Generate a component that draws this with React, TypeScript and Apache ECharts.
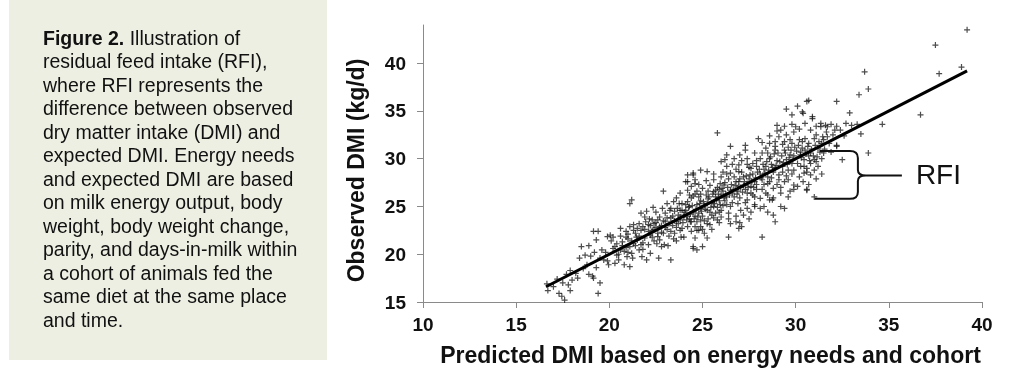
import React, { useEffect, useRef } from "react";
import * as echarts from "echarts";

const xTicks = [10, 15, 20, 25, 30, 35, 40];
const yTicks = [15, 20, 25, 30, 35, 40];
const xAxisTitle = "Predicted DMI based on energy needs and cohort";
const yAxisTitle = "Observed DMI (kg/d)";
const annotationLabel = "RFI";
const regressionLine = [[16.6, 16.6], [39.2, 39.2]];
const braceTop = [31.3, 30.8];
const braceBottom = [31.2, 25.8];

const captionLines = [
  "{b|Figure 2.} Illustration of",
  "residual feed intake (RFI),",
  "where RFI represents the",
  "difference between observed",
  "dry matter intake (DMI) and",
  "expected DMI. Energy needs",
  "and expected DMI are based",
  "on milk energy output, body",
  "weight, body weight change,",
  "parity, and days-in-milk within",
  "a cohort of animals fed the",
  "same diet at the same place",
  "and time.",
];

const outerPoints = [
  [16.7, 16.2], [16.65, 16.9], [17.0, 16.6], [17.3, 15.9], [17.45, 15.6], [17.6, 15.2], [17.2, 17.4],
  [17.5, 17.0], [17.8, 16.8], [17.9, 18.3], [18.0, 17.3], [17.7, 17.9], [17.9, 16.2],
  [18.2, 18.0], [18.4, 19.6], [18.5, 20.8], [18.3, 17.5], [18.6, 18.5], [18.8, 18.9], [18.9, 17.9],
  [19.1, 17.7], [19.15, 17.5], [19.4, 15.9], [19.5, 17.0], [19.15, 22.4], [19.4, 22.4], [19.3, 21.5],
  [19.6, 20.45], [19.9, 21.85], [19.7, 19.4], [19.96, 18.9], [19.0, 19.8], [19.2, 20.2], [19.5, 19.6],
  [19.8, 20.2], [18.7, 19.9], [19.3, 18.6], [19.9, 19.3], [18.9, 20.9],
  [20.05, 22.0], [20.3, 19.05], [20.5, 19.4], [20.6, 20.45], [20.6, 22.7], [20.9, 22.4], [21.1, 22.9],
  [21.1, 25.3], [21.2, 25.7], [20.8, 18.9], [20.95, 19.75], [21.1, 18.7], [21.3, 21.1], [21.5, 21.5],
  [21.6, 20.45], [21.7, 24.3], [21.9, 23.9], [21.8, 22.9], [21.75, 19.75], [20.2, 20.6], [20.4, 21.1],
  [20.7, 21.3], [20.9, 20.7], [21.0, 21.6], [21.2, 20.1], [21.4, 22.2], [21.6, 21.9], [21.8, 21.2],
  [21.9, 22.6], [20.5, 20.0], [21.3, 23.1], [20.1, 21.4], [21.0, 20.2], [21.7, 22.5],
  [22.0, 24.5], [22.1, 23.1], [22.3, 22.5], [22.0, 19.4], [22.2, 20.1], [22.4, 23.2], [22.6, 23.6],
  [22.7, 23.9], [22.6, 21.85], [22.7, 21.5], [22.9, 22.2], [22.65, 19.6], [23.3, 19.4], [22.9, 26.6],
  [23.1, 25.3], [23.3, 24.8], [23.45, 25.5], [23.6, 25.9], [23.9, 25.3], [23.3, 23.8], [23.6, 23.4],
  [23.8, 22.5], [22.2, 22.0], [22.4, 21.4], [22.5, 22.8], [22.8, 23.0], [23.0, 23.4], [23.1, 22.6],
  [23.2, 21.9], [23.4, 23.0], [23.5, 22.2], [23.7, 24.1], [23.8, 23.6], [22.3, 23.6], [22.8, 20.8],
  [23.0, 24.3], [23.5, 24.5], [23.9, 24.6], [22.1, 21.0], [23.6, 21.4], [23.8, 24.6], [23.95, 23.3],
  [22.5, 24.4],
  [24.0, 23.9], [24.2, 22.9], [24.4, 22.4], [24.1, 27.6], [24.2, 28.3], [24.5, 28.5], [24.6, 27.4],
  [24.7, 26.6], [24.8, 26.0], [24.5, 20.6], [24.7, 20.45], [24.35, 23.4], [24.6, 21.7], [24.8, 22.5],
  [24.5, 28.3], [24.6, 27.8], [24.2, 27.6], [24.9, 28.8], [25.25, 28.65], [25.6, 27.8], [24.9, 24.8],
  [25.25, 24.6], [25.6, 25.0], [24.9, 23.6], [25.25, 23.2], [25.6, 23.8], [24.0, 24.1], [24.4, 23.4],
  [24.7, 22.5], [24.9, 22.9], [24.0, 21.8], [24.5, 20.8], [25.0, 20.8], [25.25, 21.7], [24.2, 26.7],
  [23.8, 26.4], [25.6, 26.55], [24.1, 24.6], [24.3, 25.0], [24.5, 24.4], [24.7, 25.2], [24.9, 25.6],
  [25.1, 25.1], [25.3, 25.8], [25.5, 25.4], [25.7, 26.0], [25.9, 25.6], [24.2, 25.5], [24.4, 25.9],
  [24.6, 24.0], [24.8, 24.3], [25.0, 24.0], [25.2, 26.2], [25.4, 24.4], [25.8, 24.9], [25.0, 26.9],
  [25.4, 27.2], [25.8, 27.0], [25.1, 22.2], [25.5, 22.6], [25.9, 23.3], [24.3, 26.2], [25.7, 24.3],
  [25.3, 23.7], [24.6, 26.3], [25.9, 26.8],
  [26.0, 28.1], [26.5, 28.5], [26.95, 28.65], [27.2, 28.1], [27.4, 27.4], [27.8, 27.6], [26.15, 27.25],
  [26.5, 26.7], [26.95, 27.1], [27.4, 26.4], [27.8, 26.0], [26.0, 26.2], [26.3, 26.0], [26.7, 26.0],
  [27.05, 24.6], [27.4, 24.8], [27.8, 25.0], [26.95, 22.7], [27.1, 22.9], [26.4, 21.8], [26.0, 24.6],
  [26.3, 25.2], [26.0, 23.9], [27.8, 25.2], [27.4, 25.7], [25.8, 32.7], [26.5, 31.3], [27.3, 31.4],
  [27.3, 30.9], [26.0, 29.7], [26.3, 29.2], [26.7, 30.0], [26.95, 29.35], [27.4, 30.0], [27.7, 29.5],
  [27.9, 29.2], [26.1, 26.6], [26.2, 27.5], [26.4, 27.9], [26.6, 26.4], [26.8, 27.6], [26.9, 26.6],
  [27.0, 27.9], [27.2, 27.2], [27.3, 26.8], [27.5, 27.9], [27.6, 27.1], [27.7, 28.4], [27.9, 27.3],
  [26.2, 25.6], [26.6, 25.4], [27.0, 25.9], [27.6, 26.4], [26.4, 24.3], [26.8, 24.0], [27.5, 23.7],
  [26.1, 28.6], [26.8, 28.9], [27.6, 29.0], [26.5, 23.2], [27.9, 26.8], [26.3, 30.4], [27.1, 29.8],
  [28.6, 31.6], [28.9, 31.8], [29.4, 31.8], [29.8, 31.6], [28.2, 30.6], [28.6, 30.0], [28.9, 30.9],
  [29.4, 30.9], [29.7, 30.4], [28.4, 29.2], [28.2, 27.8], [28.5, 27.4], [28.8, 26.9], [29.2, 26.4],
  [29.6, 27.8], [29.9, 27.25], [28.1, 25.85], [28.5, 26.2], [28.75, 25.7], [29.2, 25.0], [29.4, 24.8],
  [28.3, 25.0], [28.6, 25.7], [28.8, 24.1], [28.9, 23.4], [28.1, 24.8], [28.2, 21.8], [29.0, 33.5],
  [29.2, 33.0], [28.1, 28.4], [28.3, 28.9], [28.5, 28.1], [28.7, 29.4], [28.8, 28.6], [29.0, 29.8],
  [29.1, 28.3], [29.3, 29.2], [29.5, 29.9], [29.6, 28.8], [29.8, 29.5], [29.9, 30.3], [28.4, 31.1],
  [29.1, 32.3], [29.5, 32.5], [28.6, 27.6], [29.0, 27.3], [29.4, 27.6], [29.7, 26.6], [28.2, 26.8],
  [29.3, 28.6], [28.9, 29.0], [29.8, 28.4], [28.0, 32.1], [29.6, 31.2], [29.9, 32.8], [28.5, 24.4],
  [29.5, 35.2], [29.8, 34.6],
  [30.0, 33.35], [30.6, 36.0], [30.4, 34.75], [30.9, 34.4], [30.2, 32.0], [30.5, 32.1], [31.1, 32.5],
  [30.1, 29.5], [30.45, 29.2], [31.0, 29.9], [30.2, 28.1], [30.6, 28.6], [31.2, 29.2], [30.1, 27.1],
  [30.6, 26.7], [31.0, 26.0], [30.36, 34.9], [30.9, 34.2], [30.36, 31.8], [30.7, 31.6], [31.0, 32.1],
  [30.27, 30.7], [30.5, 30.9], [30.8, 30.6], [31.2, 31.1], [30.45, 29.9], [30.8, 29.5], [31.1, 29.7],
  [31.4, 30.0], [30.27, 29.2], [30.6, 29.0], [31.0, 28.8], [30.45, 28.5], [30.8, 28.3], [30.6, 26.8],
  [31.35, 33.36], [30.3, 30.1], [30.7, 30.3], [31.3, 30.7], [31.4, 31.6], [30.1, 35.5],
  [31.6, 33.5], [31.9, 33.6], [32.2, 33.4], [32.7, 33.7], [33.0, 33.5], [33.3, 33.6], [32.1, 33.0],
  [32.4, 33.0], [31.7, 32.3], [32.0, 32.5], [31.5, 30.6], [31.9, 30.7], [32.2, 31.3], [31.35, 33.7],
  [31.7, 33.35], [32.2, 36.0], [30.7, 36.1], [32.9, 34.8], [33.5, 32.6], [33.9, 30.6], [32.5, 29.9],
  [33.4, 36.7], [33.9, 37.3], [33.7, 39.1], [34.65, 33.6], [32.2, 31.4], [32.6, 32.4],
  [36.7, 34.6], [37.7, 38.9], [38.9, 39.6], [37.5, 41.9], [39.2, 43.5],
];

const corePoints = [
  [20.3, 20.8], [20.6, 21.9], [20.8, 20.3], [21.0, 22.1], [21.2, 21.4], [21.4, 20.9], [21.5, 22.7],
  [21.7, 21.0], [21.9, 21.7], [20.4, 19.9], [20.7, 20.9], [21.1, 20.8], [21.3, 22.5], [21.6, 23.2],
  [21.8, 20.5], [20.2, 21.8], [21.95, 23.4], [21.45, 21.8], [20.9, 21.8], [21.25, 19.6],
  [22.1, 22.4], [22.2, 23.0], [22.3, 21.8], [22.4, 22.6], [22.5, 23.3], [22.6, 22.2], [22.7, 22.9],
  [22.8, 22.3], [22.9, 23.5], [23.0, 22.8], [23.1, 23.8], [23.2, 23.2], [23.3, 22.4], [23.4, 24.0],
  [23.5, 23.5], [23.6, 22.8], [23.7, 23.2], [23.8, 23.9], [23.9, 22.7], [22.35, 24.9], [22.55, 21.1],
  [22.85, 24.8], [23.15, 20.9], [23.45, 21.6], [23.75, 25.3], [22.95, 21.0], [23.65, 24.8], [22.15, 23.7],
  [23.25, 24.6], [23.85, 21.8],
  [24.05, 24.4], [24.15, 23.6], [24.25, 24.9], [24.35, 24.2], [24.45, 25.1], [24.55, 23.7], [24.65, 24.7],
  [24.75, 23.9], [24.85, 25.3], [24.95, 24.5], [25.05, 25.5], [25.15, 24.7], [25.25, 25.3], [25.35, 26.0],
  [25.45, 24.9], [25.55, 26.3], [25.65, 25.3], [25.75, 25.7], [25.85, 26.3], [25.95, 25.2], [24.1, 25.2],
  [24.3, 23.7], [24.5, 26.1], [24.7, 23.4], [24.9, 26.3], [25.1, 23.5], [25.3, 26.6], [25.5, 24.1],
  [25.7, 26.7], [25.9, 24.4], [24.4, 27.1], [24.8, 27.3], [25.2, 27.7], [25.6, 28.4], [24.6, 22.9],
  [25.0, 22.6], [25.4, 23.1], [25.8, 23.6], [24.2, 24.0], [25.95, 27.4],
  [26.05, 26.9], [26.15, 25.9], [26.25, 26.3], [26.35, 27.0], [26.45, 26.2], [26.55, 27.3], [26.65, 26.8],
  [26.75, 27.2], [26.85, 26.3], [26.95, 27.6], [27.05, 27.0], [27.15, 26.5], [27.25, 27.6], [27.35, 28.2],
  [27.45, 27.0], [27.55, 28.3], [27.65, 27.6], [27.75, 27.0], [27.85, 28.0], [27.95, 28.6], [26.1, 25.1],
  [26.3, 28.4], [26.5, 25.0], [26.7, 28.1], [26.9, 25.3], [27.1, 28.6], [27.3, 25.4], [27.5, 29.1],
  [27.7, 26.2], [27.9, 29.8], [26.2, 29.9], [26.6, 29.4], [27.0, 30.4], [27.4, 29.4], [27.8, 30.6],
  [26.4, 23.7], [26.8, 23.4], [27.2, 24.1], [27.6, 24.4], [27.0, 23.3],
  [28.05, 28.9], [28.15, 28.0], [28.25, 29.4], [28.35, 28.5], [28.45, 29.7], [28.55, 28.8], [28.65, 30.2],
  [28.75, 29.1], [28.85, 30.5], [28.95, 29.3], [29.05, 30.6], [29.15, 29.7], [29.25, 30.3], [29.35, 29.6],
  [29.45, 30.6], [29.55, 29.4], [29.65, 30.1], [29.75, 30.9], [29.85, 29.9], [29.95, 31.2], [28.1, 30.0],
  [28.3, 27.3], [28.5, 30.6], [28.7, 28.0], [28.9, 31.3], [29.1, 27.8], [29.3, 31.5], [29.5, 28.2],
  [29.7, 32.0], [29.9, 28.8], [28.2, 31.7], [28.6, 32.4], [29.0, 32.9], [29.4, 33.4], [29.8, 33.6],
  [28.4, 26.4], [28.8, 25.9], [29.2, 27.0], [29.6, 26.0], [29.9, 26.8],
  [30.05, 30.8], [30.15, 31.4], [30.25, 30.4], [30.35, 31.1], [30.55, 30.5], [30.65, 31.3], [30.75, 29.8],
  [30.85, 31.0], [30.95, 30.3], [31.05, 31.4], [31.15, 30.2], [31.25, 31.8], [31.45, 32.3], [31.55, 31.0],
  [31.65, 32.8], [30.2, 33.1], [30.5, 33.7], [30.8, 33.0], [31.1, 33.4], [31.5, 32.0], [30.4, 27.6],
  [30.7, 27.3], [31.1, 27.9], [31.4, 28.4], [31.8, 31.6],
];

const observedPoints = [...outerPoints, ...corePoints];

const PLUS = "path://M-1,-5H1V-1H5V1H1V5H-1V1H-5V-1H-1Z";
const FONT = "Liberation Sans, Arial, sans-serif";

echarts.graphic.registerShape(
  "brace",
  echarts.graphic.extendPath(
    "M0,0 L30,0 Q38,0 38,7 L38,19 Q38,24.5 46,24.5 L82,24.5 M46,24.5 Q38,24.5 38,30 L38,41 Q38,48 30,48 L-5,48",
    {}
  )
);

export default function App() {
  const ref = useRef<HTMLDivElement>(null);
  useEffect(() => {
    if (!ref.current) return;
    const chart = echarts.init(ref.current, null, { renderer: "svg" });
    const axisLineStyle = { color: "#8a8a8a", width: 1 };
    const labelStyle = { color: "#111", fontWeight: "bold" as const, fontSize: 19, fontFamily: FONT };
    chart.setOption({
      animation: false,
      grid: { left: 423, right: 42, top: 25, bottom: 84, containLabel: false },
      xAxis: {
        type: "value",
        min: 10,
        max: 40,
        interval: 5,
        axisLine: { show: true, onZero: false, lineStyle: axisLineStyle },
        axisTick: { show: true, length: 6, lineStyle: axisLineStyle, customValues: xTicks },
        axisLabel: { ...labelStyle, margin: 13, customValues: xTicks },
        splitLine: { show: false },
        name: xAxisTitle,
        nameLocation: "middle",
        nameGap: 41,
        nameTextStyle: { color: "#111", fontWeight: "bold", fontSize: 23, fontFamily: FONT, padding: [0, 0, 0, 16] },
      },
      yAxis: {
        type: "value",
        min: 15,
        max: 44,
        axisLine: { show: true, onZero: false, lineStyle: axisLineStyle },
        axisTick: { show: true, length: 6, lineStyle: axisLineStyle, customValues: yTicks },
        axisLabel: { ...labelStyle, margin: 17, customValues: yTicks },
        splitLine: { show: false },
        name: yAxisTitle,
        nameLocation: "middle",
        nameGap: 56,
        nameTextStyle: { color: "#111", fontWeight: "bold", fontSize: 23, fontFamily: FONT, padding: [0, 14, 0, 0] },
      },
      series: [
        {
          type: "scatter",
          data: observedPoints,
          symbol: PLUS,
          symbolSize: 6,
          itemStyle: { color: "#111", opacity: 0.75 },
          silent: true,
          z: 2,
        },
        {
          type: "line",
          data: regressionLine,
          symbol: "none",
          lineStyle: { color: "#000", width: 3 },
          silent: true,
          z: 3,
        },
      ],
    });
    const top = chart.convertToPixel({ gridIndex: 0 }, braceTop) as number[];
    const bottom = chart.convertToPixel({ gridIndex: 0 }, braceBottom) as number[];
    const h = bottom[1] - top[1];
    chart.setOption({
      graphic: [
        {
          type: "rect",
          shape: { x: 9, y: 0, width: 318, height: 360 },
          style: { fill: "#eeefe3" },
          silent: true,
        },
        {
          type: "text",
          x: 43,
          y: 26,
          style: {
            text: captionLines.join("\n"),
            fontSize: 19.5,
            lineHeight: 23.5,
            fontFamily: FONT,
            fill: "#111",
            verticalAlign: "top",
            rich: {
              b: { fontWeight: "bold", fontSize: 19.5, lineHeight: 23.5, fontFamily: FONT, fill: "#111" },
            },
          },
          silent: true,
        },
        {
          type: "brace",
          x: top[0],
          y: top[1],
          scaleX: 1,
          scaleY: h / 48,
          style: { fill: "none", stroke: "#111", lineWidth: 2 },
          silent: true,
          z: 10,
        },
        {
          type: "text",
          x: top[0] + 96,
          y: top[1] + h / 2,
          style: {
            text: annotationLabel,
            fontSize: 28,
            fontFamily: FONT,
            fill: "#111",
            verticalAlign: "middle",
          },
          silent: true,
          z: 10,
        },
      ],
    });
    return () => chart.dispose();
  }, []);
  return <div ref={ref} style={{ position: "fixed", left: 0, top: 0, width: 1024, height: 386 }} />;
}
